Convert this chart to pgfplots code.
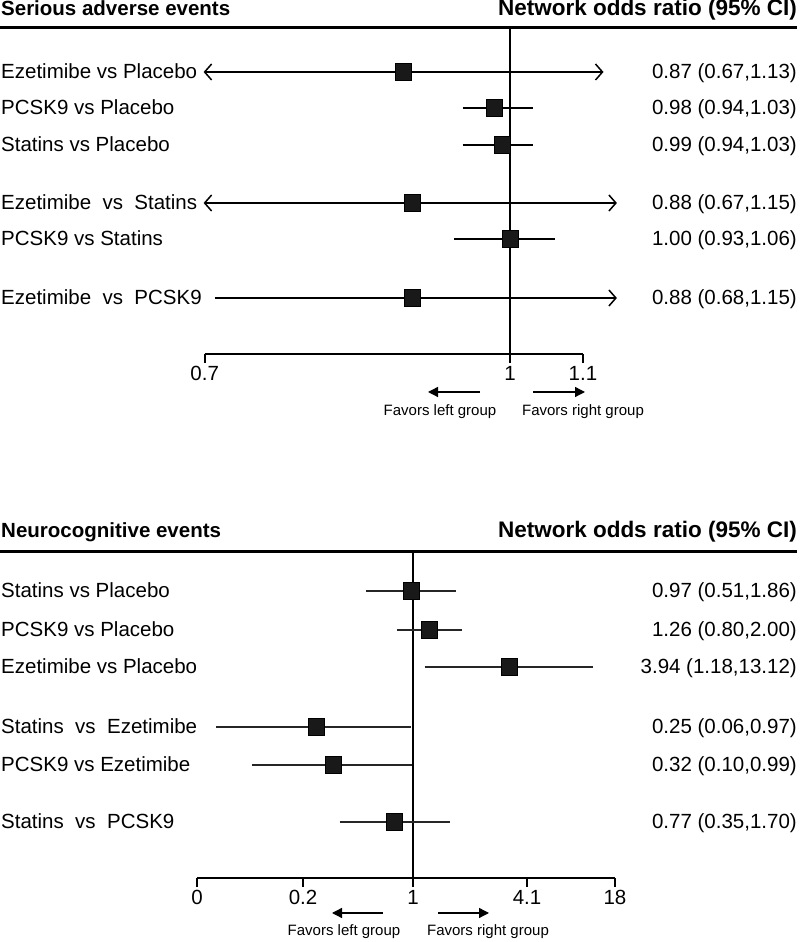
\documentclass[border=0pt]{standalone}
\usepackage{fontspec}
\setmainfont{Liberation Sans}
\usepackage{pgfplots}
\pgfplotsset{compat=1.18}
\usetikzlibrary{arrows.meta}
\tikzset{
  cib/.style={{Straight Barb[length=7pt,width=16pt]}-{Straight Barb[length=7pt,width=16pt]}},
  cir/.style={-{Straight Barb[length=7pt,width=16pt]}},
  fav/.style={line width=1.3pt,-{Triangle[length=10pt,width=10pt]}},
}
\newcommand{\lab}{\fontsize{20.5}{24}\selectfont}
\newcommand{\tlab}{\fontsize{20.5}{24}\selectfont}
\newcommand{\val}{\fontsize{20.5}{24}\selectfont}
\newcommand{\fav}{\fontsize{15}{18}\selectfont}
\begin{document}
\begin{tikzpicture}
\path[use as bounding box] (0pt,0pt) rectangle (800pt,942pt);
% ---------------- top panel ----------------
\node[anchor=base west,inner sep=0pt,font=\bfseries\fontsize{20.5}{24}\selectfont] at (1pt,926pt) {Serious adverse events};
\node[anchor=base east,inner sep=0pt,font=\bfseries\fontsize{22.5}{24}\selectfont] at (797pt,926pt) {Network odds ratio (95\% CI)};
\draw[line width=3pt] (0pt,914pt) -- (797pt,914pt);
\begin{axis}[xmode=log, at={(195pt,588pt)}, anchor=south west,
  scale only axis, width=430pt, height=326pt,
  xmin=0.6625, xmax=1.1622, ymin=28, ymax=354, y dir=reverse, clip=false,
  hide y axis, axis x line*=bottom, x axis line style={draw=none},
  tick align=outside, major tick length=9pt,
  every tick/.style={black,line width=2pt},
  ticklabel style={font=\tlab}, minor tick num=0,
  xtick={0.671,1,1.1}, xticklabels={0.7,1,1.1}]
\draw[line width=1.5pt] (axis cs:1,28) -- (axis cs:1,354);
\draw[line width=2.5pt] (axis cs:0.671,354) -- (axis cs:1.1,354);
\addplot[line width=1.5pt,cib] coordinates {(0.67,72) (1.13,72)};
\addplot[line width=1.5pt] coordinates {(0.94,108) (1.03,108)};
\addplot[line width=1.5pt] coordinates {(0.94,145) (1.03,145)};
\addplot[line width=1.5pt,cib] coordinates {(0.67,203) (1.15,203)};
\addplot[line width=1.5pt] coordinates {(0.93,239) (1.06,239)};
\addplot[line width=1.5pt,cir] coordinates {(0.68,298) (1.15,298)};
\addplot[only marks, mark=square*, mark size=8pt, mark options={yscale=1.08}, fill=black!90, draw=black] coordinates {
 (0.87,72) (0.98,108) (0.99,145) (0.88,203) (1.00,239) (0.88,298)};
\end{axis}
\foreach \y/\t/\v in {72/Ezetimibe vs Placebo/0.87 (0.67{,}1.13),
                      108/PCSK9 vs Placebo/0.98 (0.94{,}1.03),
                      145/Statins vs Placebo/0.99 (0.94{,}1.03),
                      203/Ezetimibe\ \ vs\ \ Statins/0.88 (0.67{,}1.15),
                      239/PCSK9 vs Statins/1.00 (0.93{,}1.06),
                      298/Ezetimibe\ \ vs\ \ PCSK9/0.88 (0.68{,}1.15)}{
  \node[anchor=base west,inner sep=0pt,font=\lab] at (1pt,{(935-\y)*1pt}) {\t};
  \node[anchor=base east,inner sep=0pt,font=\val] at (797pt,{(935-\y)*1pt}) {\v};
}
\draw[fav] (480pt,550pt) -- (428pt,550pt);
\draw[fav] (533pt,550pt) -- (585pt,550pt);
\node[font=\fav,inner sep=0pt] at (440pt,530pt) {Favors left group};
\node[font=\fav,inner sep=0pt] at (583pt,530pt) {Favors right group};
% ---------------- bottom panel ----------------
\node[anchor=base west,inner sep=0pt,font=\bfseries\fontsize{20.5}{24}\selectfont] at (1pt,404pt) {Neurocognitive events};
\node[anchor=base east,inner sep=0pt,font=\bfseries\fontsize{22.5}{24}\selectfont] at (797pt,404pt) {Network odds ratio (95\% CI)};
\draw[line width=3pt] (0pt,390pt) -- (797pt,390pt);
\begin{axis}[xmode=log, at={(190pt,64pt)}, anchor=south west,
  scale only axis, width=435pt, height=326pt,
  xmin=0.04134, xmax=20.67, ymin=552, ymax=878, y dir=reverse, clip=false,
  hide y axis, axis x line*=bottom, x axis line style={draw=none},
  tick align=outside, major tick length=9pt,
  every tick/.style={black,line width=2pt},
  ticklabel style={font=\tlab}, minor tick num=0,
  xtick={0.0457,0.208,1,5.10,17.9}, xticklabels={0,0.2,1,4.1,18}]
\draw[line width=1.5pt] (axis cs:1,552) -- (axis cs:1,878);
\draw[line width=2.5pt] (axis cs:0.0457,878) -- (axis cs:17.9,878);
\addplot[line width=1.1pt,black!85] coordinates {(0.51,591) (1.86,591)};
\addplot[line width=1.1pt,black!85] coordinates {(0.80,630) (2.00,630)};
\addplot[line width=1.1pt,black!85] coordinates {(1.18,667) (13.12,667)};
\addplot[line width=1.1pt,black!85] coordinates {(0.06,727) (0.97,727)};
\addplot[line width=1.1pt,black!85] coordinates {(0.10,765) (0.99,765)};
\addplot[line width=1.1pt,black!85] coordinates {(0.35,822) (1.70,822)};
\addplot[only marks, mark=square*, mark size=8pt, mark options={yscale=1.08}, fill=black!90, draw=black] coordinates {
 (0.97,591) (1.26,630) (3.94,667) (0.25,727) (0.32,765) (0.77,822)};
\end{axis}
\foreach \y/\t/\v in {591/Statins vs Placebo/0.97 (0.51{,}1.86),
                      630/PCSK9 vs Placebo/1.26 (0.80{,}2.00),
                      667/Ezetimibe vs Placebo/3.94 (1.18{,}13.12),
                      727/Statins\ \ vs\ \ Ezetimibe/0.25 (0.06{,}0.97),
                      765/PCSK9 vs Ezetimibe/0.32 (0.10{,}0.99),
                      822/Statins\ \ vs\ \ PCSK9/0.77 (0.35{,}1.70)}{
  \node[anchor=base west,inner sep=0pt,font=\lab] at (1pt,{(935-\y)*1pt}) {\t};
  \node[anchor=base east,inner sep=0pt,font=\val] at (797pt,{(935-\y)*1pt}) {\v};
}
\draw[fav] (383pt,29pt) -- (332pt,29pt);
\draw[fav] (438pt,29pt) -- (489pt,29pt);
\node[font=\fav,inner sep=0pt] at (344pt,10pt) {Favors left group};
\node[font=\fav,inner sep=0pt] at (488pt,10pt) {Favors right group};
\end{tikzpicture}
\end{document}
